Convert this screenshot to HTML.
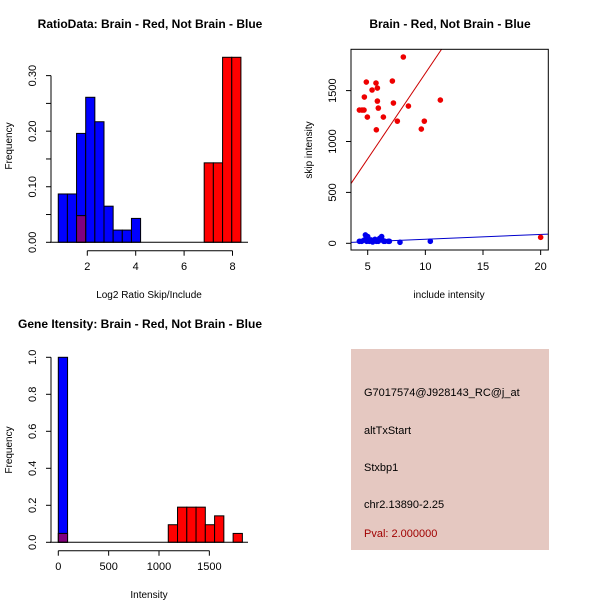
<!DOCTYPE html>
<html><head><meta charset="utf-8"><style>
body{margin:0;background:#fff;}
svg{display:block;font-family:"Liberation Sans",sans-serif;}
</style></head><body>
<svg id="chart" width="600" height="600">
<rect width="600" height="600" fill="#fff"/>
<g id="p1"></g>
<g id="p2"></g>
<g id="p3"></g>
<g id="p4">
<rect x="351" y="349" width="198" height="201" fill="#e5c8c1"/>
<text x="364" y="396" font-size="11">G7017574@J928143_RC@j_at</text>
<text x="364" y="434" font-size="11">altTxStart</text>
<text x="364" y="471" font-size="11">Stxbp1</text>
<text x="364" y="508" font-size="11">chr2.13890-2.25</text>
<text x="364" y="537" font-size="11" fill="#a00000">Pval: 2.000000</text>
</g>
</svg>
<script>
// Panel 1 data
const ratioBlueStart = 0.8, ratioBlueWidth = 0.378;
const ratioBlueFreq = [0.087,0.087,0.196,0.261,0.217,0.065,0.022,0.022,0.043];
const ratioRedBins = [1.556, 6.83, 7.21, 7.59, 7.97];
const ratioRedWidth = 0.378;
const ratioRedFreq = [0.048, 0.143, 0.143, 0.333, 0.333];
const ratioXTicks = [2,4,6,8];
const ratioYTicks = [0,0.05,0.10,0.15,0.20,0.25,0.30];
const ratioYLabels = ["0.00","","0.10","","0.20","","0.30"];
// Panel 2 data
const redX = [4.28,4.51,4.68,4.71,4.88,4.97,5.38,5.72,5.84,5.84,5.92,5.75,6.36,7.14,7.23,7.57,8.09,8.53,9.65,9.91,11.3,20];
const redY = [1309,1309,1309,1437,1584,1240,1506,1574,1525,1397,1328,1115,1240,1594,1378,1200,1830,1348,1122,1200,1407,59];
const blueX = [4.28,4.48,4.71,4.8,5.0,4.91,5.14,5.29,5.43,5.63,5.75,5.92,6.04,6.21,6.27,6.39,6.5,6.79,6.88,7.8,10.43];
const blueY = [20,20,33,82,66,20,20,33,13,39,20,20,49,66,33,20,20,20,20,10,20];
const redFit = [-10, 168];
const blueFit = [-8, 4.76];
const scXTicks = [5,10,15,20];
const scYTicks = [0,500,1000,1500];
// Panel 3 data
const intBlueEdges = [0];
const intBlueFreq = [1.0];
const intRedEdges = [0,1092,1184,1276,1368,1460,1552,1644,1736];
const intRedFreq = [0.048,0.095,0.19,0.19,0.19,0.095,0.143,0,0.048];
const intBinWidth = 92;
const intXTicks = [0,500,1000,1500];
const intYTicks = [0,0.2,0.4,0.6,0.8,1.0];
const intYLabels = ["0.0","0.2","0.4","0.6","0.8","1.0"];

const NS="http://www.w3.org/2000/svg";
function mk(parent,tag,attrs,text){const e=document.createElementNS(NS,tag);for(const k in attrs)e.setAttribute(k,attrs[k]);if(text!==undefined)e.textContent=text;parent.appendChild(e);return e;}

// ---------- Panel 1 ----------
(function(){
const g=document.getElementById('p1');
const x=v=>87.3+(v-2)*24.2, y=v=>242.3-v*555.6;
let t=mk(g,'text',{x:150,y:28,'font-size':12,'font-weight':'bold','text-anchor':'middle'},'RatioData: Brain - Red, Not Brain - Blue');

ratioBlueFreq.forEach((f,i)=>{const x0=ratioBlueStart+i*ratioBlueWidth;
const r=mk(g,'rect',{x:x(x0),y:y(f),width:x(x0+ratioBlueWidth)-x(x0),height:y(0)-y(f),fill:'#0000ff',stroke:'#000','stroke-width':1});
});
ratioRedFreq.forEach((f,i)=>{const x0=ratioRedBins[i];
const r=mk(g,'rect',{x:x(x0),y:y(f),width:x(x0+ratioRedWidth)-x(x0),height:y(0)-y(f),fill:'rgba(255,0,0,0.5)',stroke:'#000','stroke-width':1});
if(f>0.1)r.setAttribute('fill','#ff0000');
});
let l=mk(g,'line',{x1:50,x2:248,y1:y(0),y2:y(0),stroke:'#000'});

l=mk(g,'line',{x1:x(2),x2:x(8),y1:250.7,y2:250.7,stroke:'#000'});

ratioXTicks.forEach(v=>{mk(g,'line',{x1:x(v),x2:x(v),y1:250.7,y2:255.7,stroke:'#000'});
const tt=mk(g,'text',{x:x(v),y:270,'font-size':11,'text-anchor':'middle'},v);
});
l=mk(g,'line',{x1:51,x2:51,y1:y(0),y2:y(0.3),stroke:'#000'});

ratioYTicks.forEach((v,i)=>{mk(g,'line',{x1:46,x2:51,y1:y(v),y2:y(v),stroke:'#000'});
if(ratioYLabels[i]){const tt=mk(g,'text',{x:0,y:0,'font-size':11,'text-anchor':'middle',transform:`translate(36,${y(v)}) rotate(-90)`},ratioYLabels[i]);
}});
t=mk(g,'text',{x:149,y:298,'font-size':10,'text-anchor':'middle'},'Log2 Ratio Skip/Include');

t=mk(g,'text',{x:0,y:0,'font-size':10,'text-anchor':'middle',transform:'translate(12,146) rotate(-90)'},'Frequency');

})();

// ---------- Panel 2 ----------
(function(){
const g=document.getElementById('p2');
const x=v=>367.7+(v-5)*11.53, y=v=>243.3-v*0.1018;
let t=mk(g,'text',{x:450,y:28,'font-size':12,'font-weight':'bold','text-anchor':'middle'},'Brain - Red, Not Brain - Blue');

const cp=mk(g,'clipPath',{id:'c2'});mk(cp,'rect',{x:351,y:49.3,width:197.3,height:200.7});
const fits=[[redFit,'#cc0000','red-fit-line'],[blueFit,'#0000cc','blue-fit-line']];
fits.forEach(([f,c,n])=>{const l=mk(g,'line',{x1:x(3.5),x2:x(21),y1:y(f[0]+f[1]*3.5),y2:y(f[0]+f[1]*21),stroke:c,'clip-path':'url(#c2)'});
});
redX.forEach((v,i)=>{const c=mk(g,'circle',{cx:x(v),cy:y(redY[i]),r:2.8,fill:'#ee0000'});
});
blueX.forEach((v,i)=>{const c=mk(g,'circle',{cx:x(v),cy:y(blueY[i]),r:2.8,fill:'#0000ee'});
});
let b=mk(g,'rect',{x:351,y:49.3,width:197.3,height:200.7,fill:'none',stroke:'#000'});

scXTicks.forEach(v=>{mk(g,'line',{x1:x(v),x2:x(v),y1:250,y2:255,stroke:'#000'});
const tt=mk(g,'text',{x:x(v),y:270,'font-size':11,'text-anchor':'middle'},v);
});
scYTicks.forEach(v=>{mk(g,'line',{x1:346,x2:351,y1:y(v),y2:y(v),stroke:'#000'});
const tt=mk(g,'text',{x:0,y:0,'font-size':11,'text-anchor':'middle',transform:`translate(336,${y(v)}) rotate(-90)`},v);
});
t=mk(g,'text',{x:449,y:298,'font-size':10,'text-anchor':'middle'},'include intensity');

t=mk(g,'text',{x:0,y:0,'font-size':10,'text-anchor':'middle',transform:'translate(312,150) rotate(-90)'},'skip intensity');

})();

// ---------- Panel 3 ----------
(function(){
const g=document.getElementById('p3');
const x=v=>58.3+v*0.1007, y=v=>542.3-v*185;
let t=mk(g,'text',{x:140,y:328,'font-size':12,'font-weight':'bold','text-anchor':'middle'},'Gene Itensity: Brain - Red, Not Brain - Blue');

intBlueFreq.forEach((f,i)=>{const x0=intBlueEdges[i];
const r=mk(g,'rect',{x:x(x0),y:y(f),width:x(x0+intBinWidth)-x(x0),height:y(0)-y(f),fill:'#0000ff',stroke:'#000'});
});
intRedFreq.forEach((f,i)=>{if(f<=0)return;const x0=intRedEdges[i];
const r=mk(g,'rect',{x:x(x0),y:y(f),width:x(x0+intBinWidth)-x(x0),height:y(0)-y(f),fill:i===0?'rgba(255,0,0,0.5)':'#ff0000',stroke:'#000'});
});
let l=mk(g,'line',{x1:50,x2:248,y1:y(0),y2:y(0),stroke:'#000'});

l=mk(g,'line',{x1:x(0),x2:x(1500),y1:550.7,y2:550.7,stroke:'#000'});

intXTicks.forEach(v=>{mk(g,'line',{x1:x(v),x2:x(v),y1:550.7,y2:555.7,stroke:'#000'});
const tt=mk(g,'text',{x:x(v),y:570,'font-size':11,'text-anchor':'middle'},v);
});
l=mk(g,'line',{x1:51,x2:51,y1:y(0),y2:y(1),stroke:'#000'});

intYTicks.forEach((v,i)=>{mk(g,'line',{x1:46,x2:51,y1:y(v),y2:y(v),stroke:'#000'});
const tt=mk(g,'text',{x:0,y:0,'font-size':11,'text-anchor':'middle',transform:`translate(36,${y(v)}) rotate(-90)`},intYLabels[i]);
});
t=mk(g,'text',{x:149,y:598,'font-size':10,'text-anchor':'middle'},'Intensity');

t=mk(g,'text',{x:0,y:0,'font-size':10,'text-anchor':'middle',transform:'translate(12,450) rotate(-90)'},'Frequency');

})();
</script>
</body></html>
